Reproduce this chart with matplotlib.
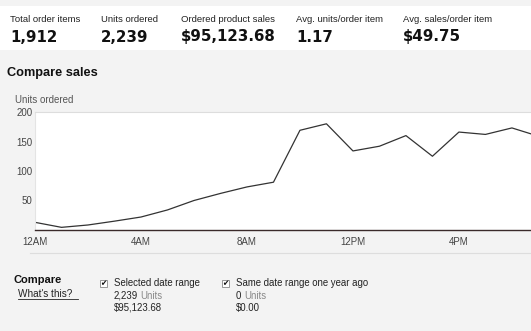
import matplotlib
matplotlib.use("Agg")
import matplotlib.pyplot as plt
from matplotlib.patches import Rectangle

# ---- data ----
stat_labels = ["Total order items", "Units ordered", "Ordered product sales",
               "Avg. units/order item", "Avg. sales/order item"]
stat_values = ["1,912", "2,239", "$95,123.68", "1.17", "$49.75"]
hours = list(range(20))
units = [13, 4.5, 8.5, 15, 22, 34, 50, 62, 73, 81, 169, 180, 134, 142, 160, 125, 166, 162, 173, 159]
xtick_pos = [0, 4, 8, 12, 16]
xtick_labels = ["12AM", "4AM", "8AM", "12PM", "4PM"]
ytick_pos = [50, 100, 150, 200]

W, H = 531, 331
fig = plt.figure(figsize=(W / 100, H / 100), dpi=100)
fig.patch.set_facecolor("#f3f3f3")

def fx(px):
    return px / W

def fy(py):
    return 1 - py / H

# header white box
fig.patches.append(Rectangle((0, fy(50)), 1, fy(6) - fy(50), transform=fig.transFigure,
                             facecolor="white", edgecolor="none", zorder=0))
col_x = [10, 101, 181, 296, 403]
for x, lab, val in zip(col_x, stat_labels, stat_values):
    fig.text(fx(x), fy(20), lab, fontsize=6.8, color="#222222", family="Liberation Sans", va="center")
    fig.text(fx(x), fy(37), val, fontsize=10.8, color="#111111", weight="bold", family="DejaVu Sans", va="center")

fig.text(fx(7), fy(73), "Compare sales", fontsize=9.2, weight="bold", color="#111111",
         family="Liberation Sans", va="center")
fig.text(fx(15), fy(100), "Units ordered", fontsize=7, color="#555555", family="Liberation Sans", va="center")

# chart axes
ax = fig.add_axes([fx(35), fy(230), 1 - fx(35), fy(112) - fy(230)])
ax.set_facecolor("white")
ax.plot(hours, units, color="#333333", lw=0.9, clip_on=True)
ax.set_xlim(0, 18.72)
ax.set_ylim(0, 200)
ax.set_xticks(xtick_pos)
ax.set_xticklabels(xtick_labels)
ax.set_yticks(ytick_pos)
ax.set_yticklabels([str(v) for v in ytick_pos])
ax.tick_params(axis="x", length=0, labelsize=7, colors="#444444", pad=5)
ax.tick_params(axis="y", length=0, labelsize=7, colors="#444444", pad=2)
for lab in ax.get_xticklabels() + ax.get_yticklabels():
    lab.set_family("Liberation Sans")
ax.spines["top"].set_color("#dddddd")
ax.spines["left"].set_color("#e4e4e4")
ax.spines["right"].set_visible(False)
ax.spines["bottom"].set_color("#3a2a2a")
ax.spines["bottom"].set_linewidth(1.0)
for s in ["top", "left"]:
    ax.spines[s].set_linewidth(0.8)

# separator
fig.lines.append(plt.Line2D([fx(30), 1], [fy(253), fy(253)], transform=fig.transFigure,
                            color="#dddddd", lw=0.8))

# compare section
fig.text(fx(14), fy(280), "Compare", fontsize=8, weight="bold", color="#111111",
         family="Liberation Sans", va="center")
fig.text(fx(18), fy(294), "What's this?", fontsize=7.2, color="#222222",
         family="Liberation Sans", va="center")
fig.lines.append(plt.Line2D([fx(18), fx(78)], [fy(299), fy(299)], transform=fig.transFigure,
                            color="#222222", lw=0.6))

for cx, title, l1, l2, gap in [(100, "Selected date range", "2,239", "$95,123.68", 26),
                               (222, "Same date range one year ago", "0", "$0.00", 8)]:
    fig.patches.append(Rectangle((fx(cx), fy(287)), 7 / W, 7 / H, transform=fig.transFigure,
                                 facecolor="white", edgecolor="#888888", lw=0.6))
    fig.text(fx(cx + 3.5), fy(283.5), "\u2714", fontsize=5.5, color="#111111",
             family="DejaVu Sans", ha="center", va="center")
    fig.text(fx(cx + 14), fy(283), title, fontsize=6.9, color="#222222",
             family="Liberation Sans", va="center")
    fig.text(fx(cx + 14), fy(296), l1, fontsize=6.9, color="#222222",
             family="Liberation Sans", va="center")
    fig.text(fx(cx + 14 + gap), fy(296), "Units", fontsize=6.9,
             color="#888888", family="Liberation Sans", va="center")
    fig.text(fx(cx + 14), fy(308), l2, fontsize=6.9, color="#222222",
             family="Liberation Sans", va="center")

fig.savefig("out.png", dpi=100, facecolor=fig.get_facecolor())
